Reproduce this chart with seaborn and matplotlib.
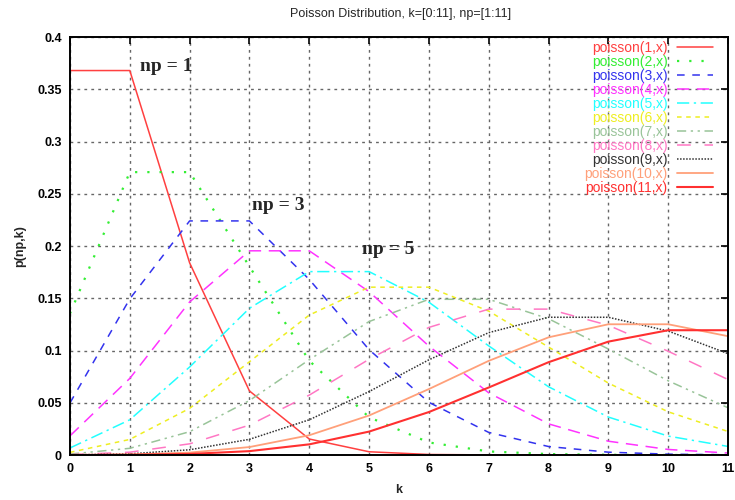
import matplotlib
matplotlib.use("Agg")
import matplotlib.pyplot as plt
import seaborn as sns
import pandas as pd

k = [0, 1, 2, 3, 4, 5, 6, 7, 8, 9, 10, 11]
np1 = [0.3679, 0.3679, 0.1839, 0.0613, 0.0153, 0.0031, 0.0005, 0.0001, 0.0000, 0.0000, 0.0000, 0.0000]
np2 = [0.1353, 0.2707, 0.2707, 0.1804, 0.0902, 0.0361, 0.0120, 0.0034, 0.0009, 0.0002, 0.0000, 0.0000]
np3 = [0.0498, 0.1494, 0.2240, 0.2240, 0.1680, 0.1008, 0.0504, 0.0216, 0.0081, 0.0027, 0.0008, 0.0002]
np4 = [0.0183, 0.0733, 0.1465, 0.1954, 0.1954, 0.1563, 0.1042, 0.0595, 0.0298, 0.0132, 0.0053, 0.0019]
np5 = [0.0067, 0.0337, 0.0842, 0.1404, 0.1755, 0.1755, 0.1462, 0.1044, 0.0653, 0.0363, 0.0181, 0.0082]
np6 = [0.0025, 0.0149, 0.0446, 0.0892, 0.1339, 0.1606, 0.1606, 0.1377, 0.1033, 0.0688, 0.0413, 0.0225]
np7 = [0.0009, 0.0064, 0.0223, 0.0521, 0.0912, 0.1277, 0.1490, 0.1490, 0.1304, 0.1014, 0.0710, 0.0452]
np8 = [0.0003, 0.0027, 0.0107, 0.0286, 0.0573, 0.0916, 0.1221, 0.1396, 0.1396, 0.1241, 0.0993, 0.0722]
np9 = [0.0001, 0.0011, 0.0050, 0.0150, 0.0337, 0.0607, 0.0911, 0.1171, 0.1318, 0.1318, 0.1186, 0.0970]
np10 = [0.0000, 0.0005, 0.0023, 0.0076, 0.0189, 0.0378, 0.0631, 0.0901, 0.1126, 0.1251, 0.1251, 0.1137]
np11 = [0.0000, 0.0002, 0.0010, 0.0037, 0.0102, 0.0224, 0.0411, 0.0646, 0.0888, 0.1085, 0.1194, 0.1194]

series = [np1, np2, np3, np4, np5, np6, np7, np8, np9, np10, np11]
labels = [f"poisson({i},x)" for i in range(1, 12)]
title = "Poisson Distribution, k=[0:11], np=[1:11]"
annotations = [("np = 1", 1.17, 0.372), ("np = 3", 3.05, 0.239), ("np = 5", 4.88, 0.197)]

colors = ["#ff4040", "#33ee33", "#3333ee", "#ff33ff", "#22ffff", "#eeee22",
          "#99c499", "#ff77c4", "#333333", "#ffa07a", "#ff3030"]
styles = ["-", (0, (1, 4.5)), (0, (5, 5)), (0, (8, 5)), (0, (8, 3, 1.5, 3)),
          (0, (3, 3)), (0, (6, 3, 1.5, 3, 1.5, 3)), (0, (9, 9)), (0, (1, 1)), "-", "-"]
widths = [1.1, 1.6, 1.1, 1.1, 1.1, 1.1, 1.1, 1.1, 1.1, 1.3, 1.5]

sns.set_theme(style="white")
plt.rcParams["font.family"] = ["Liberation Sans", "DejaVu Sans"]

fig = plt.figure(figsize=(7.35, 5.0), dpi=100)
ax = fig.add_axes([0.0952, 0.09, 0.8953, 0.836])

for vals, lab, c, ls, lw in zip(series, labels, colors, styles, widths):
    df = pd.DataFrame({"k": k, "p": vals})
    sns.lineplot(data=df, x="k", y="p", ax=ax, color=c, linestyle=ls,
                 linewidth=lw, label=lab)

ax.set_xlim(0, 11)
ax.set_ylim(0, 0.4)
ax.set_xticks(range(0, 12))
ax.set_yticks([0, 0.05, 0.1, 0.15, 0.2, 0.25, 0.3, 0.35, 0.4])
ax.set_yticklabels(["0", "0.05", "0.1", "0.15", "0.2", "0.25", "0.3", "0.35", "0.4"])
ax.grid(True, color="#666666", linestyle=(0, (2, 3)), linewidth=1.0)
ax.set_axisbelow(True)
for s in ax.spines.values():
    s.set_color("black")
    s.set_linewidth(1.4)
ax.tick_params(direction="in", length=5, width=1.2, top=True, right=True,
               labelsize=9, colors="black", pad=6)
for t in ax.get_xticklabels() + ax.get_yticklabels():
    t.set_fontweight("semibold")

ax.set_xlabel("k", fontsize=9, fontweight="semibold", labelpad=6)
ax.set_ylabel("p(np,k)", fontsize=9, fontweight="semibold", labelpad=8)
fig.text(0.545, 0.972, title, ha="center", va="center", fontsize=9)

for txt, x, y in annotations:
    ax.text(x, y, txt, fontsize=14, fontweight="bold",
            family=["Liberation Serif", "DejaVu Serif"], va="center", ha="left")

leg = ax.legend(loc="upper right", bbox_to_anchor=(0.977, 0.99), frameon=False,
                markerfirst=False, labelcolor="linecolor", fontsize=10,
                labelspacing=0.0, handlelength=2.6, handletextpad=0.65,
                borderpad=0, borderaxespad=0)

fig.savefig("out.png", dpi=100)
